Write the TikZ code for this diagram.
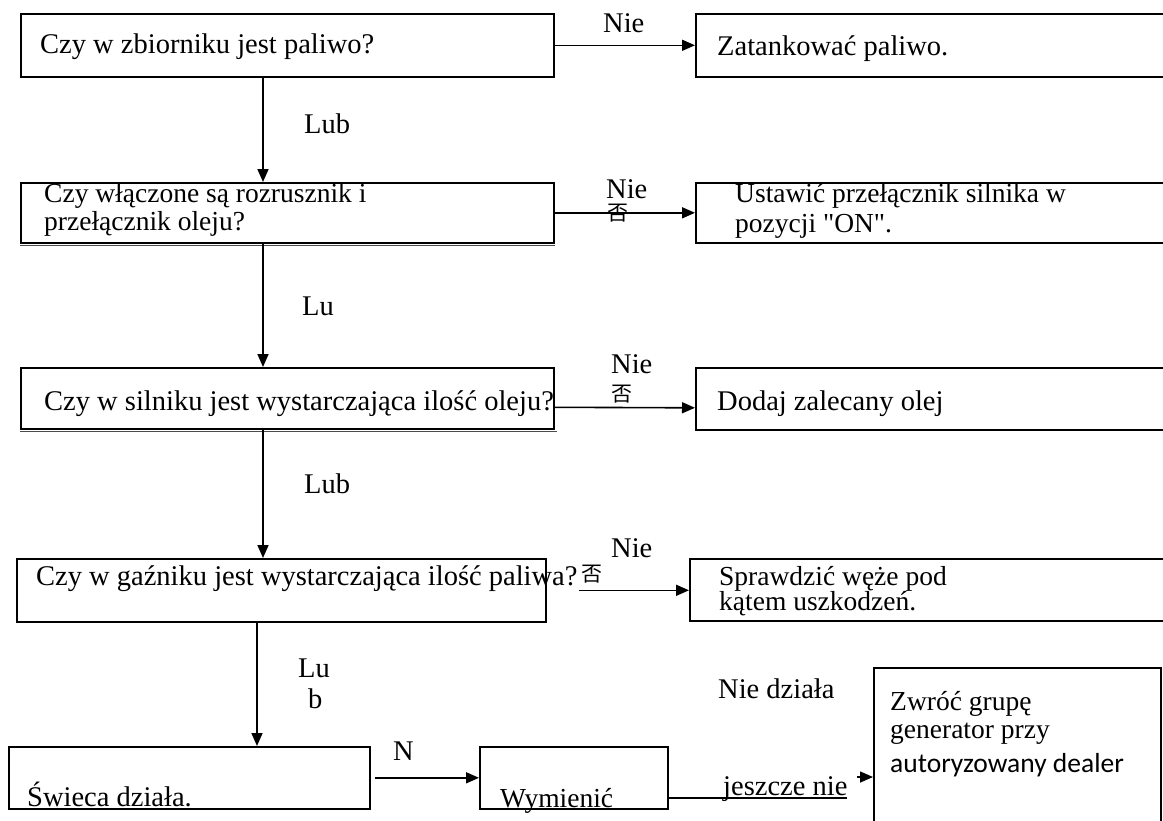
\documentclass[tikz,border=0pt]{standalone}
\usepackage{fontspec}
\setmainfont{Liberation Serif}
\newfontfamily\rawserif{Liberation Serif}[Ligatures=TeXOff]
\newfontfamily\cjk{Noto Sans CJK SC}
\newfontfamily\carl{Carlito}
\usetikzlibrary{arrows.meta}
\begin{document}
\begin{tikzpicture}[x=1pt,y=-1pt,
  box/.style={draw, line width=1.6pt, inner sep=0pt, anchor=north west},
  lbl/.style={anchor=base west, inner sep=0pt, font=\fontsize{28.5}{30}\selectfont},
  lbs/.style={anchor=base west, inner sep=0pt, font=\fontsize{27.5}{30}\selectfont},
  zh/.style={inner sep=0pt, font=\cjk\fontsize{21}{21}\selectfont},
  arr/.style={line width=1.6pt, -{Triangle[length=13pt,width=11pt]}},
  ln/.style={line width=1.6pt}]
\useasboundingbox (0,0) rectangle (1163,820);
\fill[white] (0,0) rectangle (1163,820);

% boxes
\node[box, minimum width=533pt, minimum height=63pt] (b1) at (20,13) {};
\node[box, minimum width=480pt, minimum height=63pt] (b2) at (695,13) {};
\node[box, minimum width=533pt, minimum height=60pt] (b3) at (20,182) {};
\node[box, minimum width=480pt, minimum height=60pt] (b4) at (695,182) {};
\node[box, minimum width=533pt, minimum height=61pt] (b5) at (20,367) {};
\node[box, minimum width=480pt, minimum height=62pt] (b6) at (695,367) {};
\node[box, minimum width=529pt, minimum height=63pt] (b7) at (16,558) {};
\node[box, minimum width=486pt, minimum height=62pt] (b8) at (689,558) {};
\node[box, minimum width=361pt, minimum height=62pt] (b9) at (8,746) {};
\node[box, minimum width=188pt, minimum height=62pt] (b10) at (479,746) {};
\node[box, minimum width=287pt, minimum height=170pt] (b11) at (873,667) {};

% doubled bottom edges
\draw[line width=1.2pt, black!70] ([yshift=-2pt]b3.south west) -- ([yshift=-2pt]b3.south east);
\draw[line width=1.2pt, black!70] ([yshift=-2pt]b5.south west) -- ([yshift=-2pt,xshift=2pt]b5.south east);

% texts
\node[lbl] (t1) at (40,53) {Czy w zbiorniku jest paliwo?};
\node[lbl] (t2) at (717,55) {Zatankować paliwo.};
\node[lbs] (t3a) at (44,202) {Czy włączone są rozrusznik i};
\node[lbs] (t3b) at (44,230) {przełącznik oleju?};
\node[lbs] (t4a) at (735,202) {Ustawić przełącznik silnika w};
\node[lbs] (t4b) at (735,232) {pozycji {\rawserif "ON"}.};
\node[lbl] (t5) at (44,410) {Czy w silniku jest wystarczająca ilość oleju?};
\node[lbl] (t6) at (717,410) {Dodaj zalecany olej};
\node[lbl] (t7) at (36,585) {Czy w gaźniku jest wystarczająca ilość paliwa?};
\node[lbs] (t8a) at (719,585) {Sprawdzić węże pod};
\node[lbs] (t8b) at (719,610) {kątem uszkodzeń.};
\node[lbl] (t9) at (27,806) {Świeca działa.};
\node[lbs] (t10) at (500,807) {Wymienić};
\node[lbs] (t11a) at (890,710) {Zwróć grupę};
\node[lbs] (t11b) at (890,738) {generator przy};
\node[lbs, font=\carl\fontsize{27.5}{30}\selectfont] (t11c) at (890,772) {autoryzowany dealer};

% connector labels
\node[lbl] (n1) at (603,32) {Nie};
\node[lbl] (n2) at (606,198) {Nie};
\node[zh] (z2) at (618,213) {否};
\node[lbl] (n3) at (611,373) {Nie};
\node[zh] (z3) at (622,394) {否};
\node[lbl] (n4) at (611,557) {Nie};
\node[zh] (z4) at (592,574) {否};
\node[lbl] (n5) at (393,760) {N};
\node[lbl] (nd) at (718,698) {Nie działa};
\node[lbl] (jn) at (723,795) {jeszcze nie};
\node[lbl] (l1) at (304,133) {Lub};
\node[lbl] (l2) at (302,315) {Lu};
\node[lbl] (l3) at (304,493) {Lub};
\node[lbl] (l4a) at (298,677) {Lu};
\node[lbl] (l4b) at (308,708) {b};

% vertical connectors
\coordinate (va) at (263,0);
\coordinate (vb) at (257,0);
\draw[arr] (b1.south -| va) -- (b3.north -| va);
\draw[arr] (b3.south -| va) -- (b5.north -| va);
\draw[arr] (b5.south -| va) -- (b7.north -| va);
\draw[arr] (b7.south -| vb) -- (b9.north -| vb);

% horizontal connectors
\draw[arr] (b1.east) -- (b2.west);
\draw[arr] (b3.east) -- (b4.west);
\draw[arr] ([yshift=-9pt]b5.east) -- ([yshift=-9pt]b6.west);
\draw[arr] ([xshift=32pt]b7.east) -- (b8.west |- b7.east);
\draw[arr] ([xshift=4pt]b9.east) -- (b10.west);
\coordinate (je) at (847,798);
\draw[ln] (b10.east |- je) -- (je);
\coordinate (tipstart) at (857,777);
\draw[arr] (tipstart) -- (tipstart -| b11.west);
\end{tikzpicture}
\end{document}
